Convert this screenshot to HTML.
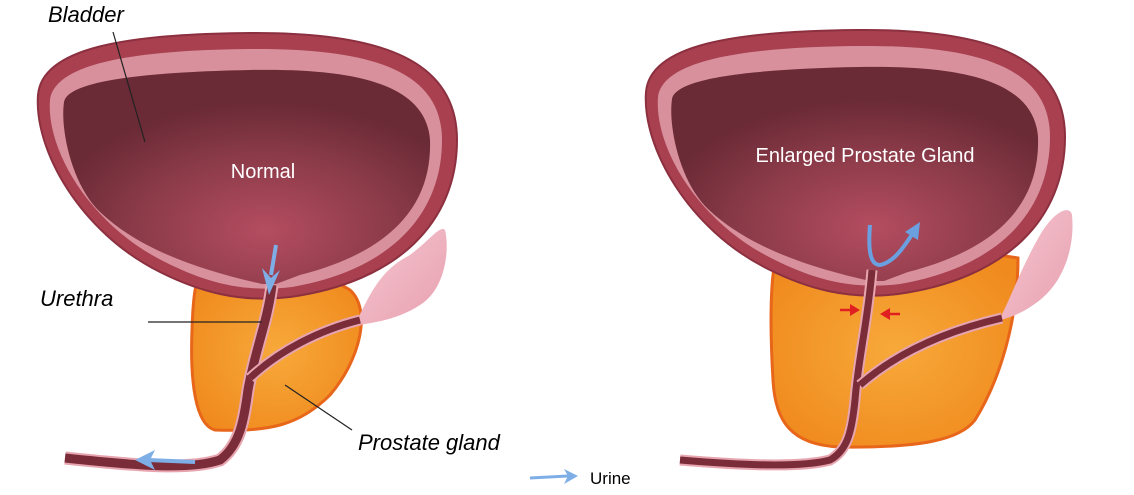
<!DOCTYPE html>
<html><head><meta charset="utf-8"><style>
html,body{margin:0;padding:0;background:#fff;width:1134px;height:495px;overflow:hidden}
svg{display:block}
text{font-family:"Liberation Sans",sans-serif}
</style></head><body>
<svg width="1134" height="495" viewBox="0 0 1134 495">
<defs>
<radialGradient id="cav" cx="0.55" cy="0.75" r="0.6">
<stop offset="0" stop-color="#b44d60"/><stop offset="0.6" stop-color="#8a3a48"/><stop offset="1" stop-color="#6a2a36"/>
</radialGradient>
<radialGradient id="pro" cx="0.5" cy="0.5" r="0.6">
<stop offset="0" stop-color="#f7a93a"/><stop offset="1" stop-color="#f08a1e"/>
</radialGradient>
<linearGradient id="sv" x1="0" y1="0" x2="1" y2="1"><stop offset="0" stop-color="#f5c6d0"/><stop offset="1" stop-color="#e8a0b0"/></linearGradient>
<g id="bladder">
<path d="M38,95 C42,48 125,34 250,33 C385,32 457,62 457,140 C457,222 398,282 290,297 C240,303 200,292 160,272 C80,232 34,150 38,95 Z" fill="#a8404f" stroke="#8c3040" stroke-width="2"/>
<path d="M50,100 C55,62 140,50 250,49 C370,48 442,70 442,140 C442,215 390,270 292,287 C242,293 205,282 165,262 C90,225 46,150 50,100 Z" fill="#d8909c"/>
<path d="M64,102 C68,80 150,72 250,70 C350,68 426,82 430,140 C432,200 398,250 300,275 L276,284 L262,284 C200,270 140,250 100,212 C72,185 60,130 64,102 Z" fill="url(#cav)"/>
</g>
</defs>

<!-- LEFT -->
<path d="M200,275 C250,268 320,270 350,290 C372,310 360,360 330,395 C300,425 270,432 215,430 C195,425 190,380 192,330 C193,300 195,282 200,275 Z" fill="url(#pro)" stroke="#e8661a" stroke-width="3"/>
<use href="#bladder"/>
<path d="M358,318 C370,295 380,270 410,255 C430,240 440,225 445,230 C450,250 445,290 420,305 C400,318 380,322 358,325 Z" fill="url(#sv)"/>
<path d="M272,285 C268,320 255,350 248,390 C244,420 240,445 220,460 C190,470 140,466 65,458" fill="none" stroke="#e7a5b0" stroke-width="13"/>
<path d="M272,285 C268,320 255,350 248,390 C244,420 240,445 220,460 C190,470 140,466 65,458" fill="none" stroke="#7a2c38" stroke-width="9"/>
<path d="M250,378 C280,350 320,330 360,320" fill="none" stroke="#e7a5b0" stroke-width="11"/>
<path d="M250,378 C280,350 320,330 360,320" fill="none" stroke="#7a2c38" stroke-width="7"/>
<path d="M276,245 L271,275" fill="none" stroke="#7eaee6" stroke-width="4"/>
<path d="M262,268 L269,295 L280,270 L271,278 Z" fill="#7eaee6"/>
<path d="M195,462 L148,460" fill="none" stroke="#7eaee6" stroke-width="4"/>
<path d="M135,460 L155,450 L150,460 L155,470 Z" fill="#7eaee6"/>
<text x="48" y="22" font-size="22" font-style="italic">Bladder</text>
<line x1="113" y1="32" x2="145" y2="142" stroke="#222" stroke-width="1.2"/>
<text x="263" y="178" font-size="20" fill="#fff" text-anchor="middle">Normal</text>
<text x="40" y="306" font-size="22" font-style="italic">Urethra</text>
<line x1="148" y1="322" x2="262" y2="322" stroke="#222" stroke-width="1.2"/>
<line x1="285" y1="385" x2="352" y2="430" stroke="#222" stroke-width="1.2"/>
<text x="358" y="450" font-size="22" font-style="italic">Prostate gland</text>

<!-- RIGHT -->
<path d="M776,258 C850,250 960,248 1018,258 C1018,320 1000,380 975,420 C960,440 920,448 840,447 C790,445 775,420 773,380 C770,330 770,280 776,258 Z" fill="url(#pro)" stroke="#e8661a" stroke-width="3"/>
<use href="#bladder" transform="translate(608,-3)"/>
<path d="M1000,318 C1010,300 1020,270 1040,235 C1055,210 1070,205 1072,215 C1075,245 1065,280 1040,300 C1025,312 1010,318 1000,320 Z" fill="url(#sv)"/>
<path d="M872,270 C868,320 858,360 855,400 C852,430 848,450 830,460 C800,468 740,465 680,460" fill="none" stroke="#e7a5b0" stroke-width="11"/>
<path d="M872,270 C868,320 858,360 855,400 C852,430 848,450 830,460 C800,468 740,465 680,460" fill="none" stroke="#7a2c38" stroke-width="7"/>
<path d="M860,385 C900,350 950,330 1002,318" fill="none" stroke="#e7a5b0" stroke-width="11"/>
<path d="M860,385 C900,350 950,330 1002,318" fill="none" stroke="#7a2c38" stroke-width="7"/>
<path d="M870,225 C868,250 870,265 880,265 C895,262 905,245 915,230" fill="none" stroke="#6aa0e0" stroke-width="4"/>
<path d="M905,232 L920,222 L918,240 Z" fill="#6aa0e0"/>
<path d="M840,310 L852,310" stroke="#e02020" stroke-width="2.5" fill="none"/>
<path d="M850,304 L860,310 L850,316 Z" fill="#e02020"/>
<path d="M900,314 L888,314" stroke="#e02020" stroke-width="2.5" fill="none"/>
<path d="M890,308 L880,314 L890,320 Z" fill="#e02020"/>
<text x="865" y="162" font-size="20" fill="#fff" text-anchor="middle">Enlarged Prostate Gland</text>

<!-- legend -->
<path d="M530,478 L568,476" fill="none" stroke="#7eaee6" stroke-width="3"/>
<path d="M578,476 L564,469 L568,476 L564,484 Z" fill="#7eaee6"/>
<text x="590" y="484" font-size="17">Urine</text>
</svg>
</body></html>
